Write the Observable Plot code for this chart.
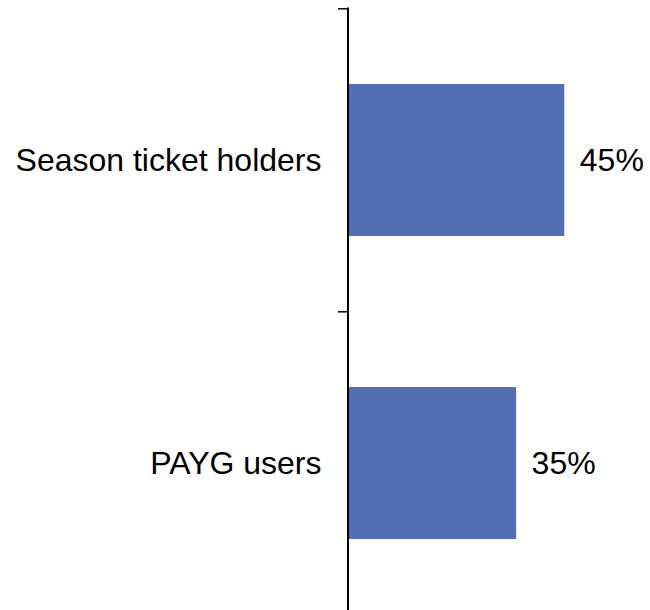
<!DOCTYPE html>
<html>
<head>
<meta charset="utf-8">
<script src="https://cdn.jsdelivr.net/npm/d3@7"></script>
<script src="https://cdn.jsdelivr.net/npm/@observablehq/plot@0.6"></script>
<style>
  html, body { margin: 0; padding: 0; background: #fff; overflow: hidden; }
  #chart svg { display: block; }
</style>
</head>
<body>
<div id="chart"></div>
<script>
const categories = ["Season ticket holders", "PAYG users"];
const values = [45, 35];
const valueLabels = ["45%", "35%"];

const data = categories.map((c, i) => ({category: c, value: values[i], label: valueLabels[i]}));

const font = "Liberation Sans, Arial, Helvetica, sans-serif";
const chart = Plot.plot({
  width: 650,
  height: 610,
  marginTop: 7.5,
  marginBottom: 0,
  marginLeft: 347.5,
  marginRight: 0,
  style: {fontFamily: font, background: "#fff", color: "#000"},
  x: {domain: [0, 45], range: [347.5, 564.3], axis: null},
  y: {domain: categories, range: [7.5, 614.3], paddingInner: 0.5, paddingOuter: 0.25, axis: null},
  marks: [
    Plot.barX(data, {y: "category", x: "value", fill: "#546EB4"}),
    Plot.axisY({anchor: "left", tickSize: 9.5, tickFormat: () => "", label: null, dy: -151.7, stroke: "#000", strokeWidth: 1.5}),
    Plot.text(data, {y: "category", x: 0, text: "category", textAnchor: "end", dx: -26.5, dy: 0.5, fontSize: 32, fill: "#000"}),
    Plot.text(data, {y: "category", x: "value", text: "label", textAnchor: "start", dx: 15, dy: 0.5, fontSize: 32, fill: "#000"}),
    Plot.ruleX([0], {stroke: "#000", strokeWidth: 2})
  ]
});
document.getElementById("chart").appendChild(chart);
</script>
</body>
</html>
